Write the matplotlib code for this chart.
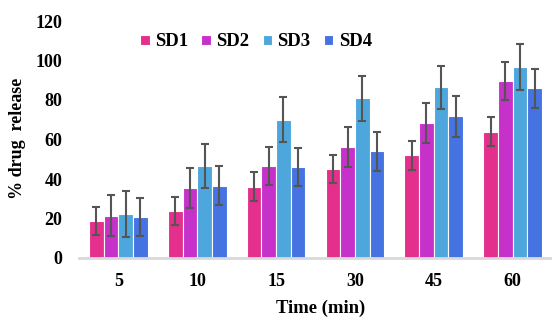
import numpy as np
import matplotlib.pyplot as plt

plt.rcParams['font.family'] = ['Liberation Serif', 'DejaVu Serif']
plt.rcParams['font.weight'] = 'bold'

# Data
times = ['5', '10', '15', '30', '45', '60']
series = ['SD1', 'SD2', 'SD3', 'SD4']
sd1 = [18.7, 23.8, 36.1, 45.2, 52.0, 64.0]
sd2 = [21.4, 35.3, 46.7, 56.4, 68.2, 89.6]
sd3 = [22.4, 46.6, 70.0, 80.9, 86.4, 96.9]
sd4 = [20.6, 36.6, 46.2, 54.0, 71.7, 85.9]
err1 = [7.2, 7.0, 7.4, 7.0, 7.3, 7.4]
err2 = [10.3, 10.1, 9.5, 10.1, 10.1, 9.8]
err3 = [11.6, 11.3, 11.5, 11.4, 11.0, 11.6]
err4 = [9.6, 9.8, 9.6, 9.9, 10.2, 9.8]
colors = ['#E42F8C', '#C531C9', '#4EA7DC', '#4573E1']

values = [sd1, sd2, sd3, sd4]
errors = [err1, err2, err3, err4]

fig = plt.figure(figsize=(5.52, 3.2), dpi=100)
ax = fig.add_axes([79 / 552, 1 - 258 / 320, 1 - 79 / 552, (258 - 21) / 320])

x = np.arange(len(times))
pitch = 0.186
for i in range(len(series)):
    pos = x + (i - 1.5) * pitch
    ax.bar(pos, values[i], pitch, color=colors[i], edgecolor='white',
           linewidth=0.8, label=series[i], zorder=2)
    ax.errorbar(pos, values[i], yerr=errors[i], fmt='none', ecolor='#555555',
                elinewidth=1.5, capsize=2.7, capthick=1.5, zorder=3)

ax.set_xlim(-0.5, 5.5)
ax.set_ylim(0, 120)
ax.set_yticks(range(0, 121, 20))
ax.set_xticks(x)
ax.set_xticklabels(times)
ax.tick_params(axis='both', length=0, labelsize=13)
ax.tick_params(axis='x', pad=11)
ax.tick_params(axis='y', pad=12)
for s in ['top', 'right', 'left']:
    ax.spines[s].set_visible(False)
ax.spines['bottom'].set_color('#D9D9D9')
ax.spines['bottom'].set_linewidth(2)

ax.set_xlabel('Time (min)', fontsize=13.4, fontweight='bold')
ax.xaxis.set_label_coords((320.5 - 79) / 473, (258 - 300) / 237)
fig.text(18 / 552, 1 - 138 / 320, '% drug  release', rotation=90,
         ha='center', va='center', fontsize=13, fontweight='bold')

fig.legend(loc='center', bbox_to_anchor=(256 / 552, 1 - 42 / 320), ncol=4,
           frameon=False, fontsize=13.5, handlelength=0.5, handleheight=0.5,
           handletextpad=0.3, columnspacing=0.7)

plt.savefig('out.png', dpi=100)
